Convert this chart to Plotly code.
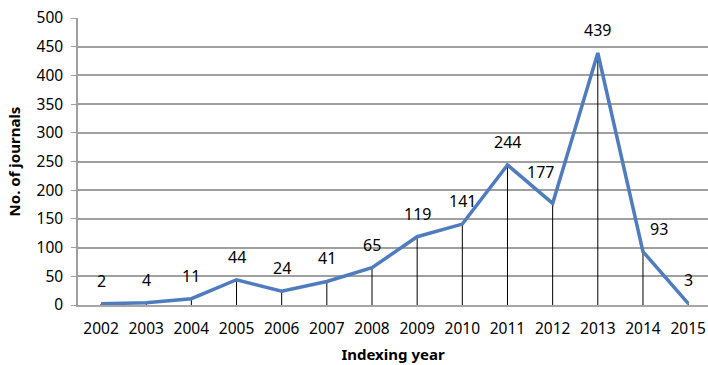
import plotly.graph_objects as go

years = ["2002", "2003", "2004", "2005", "2006", "2007", "2008",
         "2009", "2010", "2011", "2012", "2013", "2014", "2015"]
journals = [2, 4, 11, 44, 24, 41, 65, 119, 141, 244, 177, 439, 93, 3]
y_ticks = [0, 50, 100, 150, 200, 250, 300, 350, 400, 450, 500]

# small per-label nudges so labels clear the line
label_xshift = {"2012": -12, "2014": 16}
label_yshift = {"2012": 31}

FONT = "Noto Sans"

fig = go.Figure()

# series line with drop lines down to the axis
fig.add_trace(go.Scatter(
    x=years, y=journals, mode="lines",
    line=dict(color="#4F7CBE", width=3.5),
    error_y=dict(type="data", symmetric=False,
                 array=[0] * len(journals), arrayminus=journals,
                 color="black", thickness=1, width=0),
    hoverinfo="x+y", showlegend=False,
))

# value labels; on a category axis the annotation x is the category index
for i, (yr, v) in enumerate(zip(years, journals)):
    fig.add_annotation(
        x=i, y=v, xref="x", yref="y", text=str(v), showarrow=False,
        xshift=label_xshift.get(yr, 0), yshift=label_yshift.get(yr, 23),
        font=dict(family=FONT, size=16, color="black"),
    )

fig.update_layout(
    width=708, height=365,
    margin=dict(l=78, r=0, t=18, b=60),
    paper_bgcolor="white", plot_bgcolor="white",
    font=dict(family=FONT, size=15, color="black"),
    xaxis=dict(
        type="category", range=[-0.51, 13.44],
        showgrid=False, showline=True, linecolor="#A6A6A6", linewidth=2,
        ticks="", tickfont=dict(size=15.5, family=FONT), ticklabelstandoff=8,
        title=dict(text="<b>Indexing year</b>", font=dict(size=15, family=FONT), standoff=12),
        zeroline=False,
    ),
    yaxis=dict(
        range=[0, 500], tickvals=y_ticks,
        showgrid=True, gridcolor="#A0A0A0", gridwidth=1.5,
        showline=True, linecolor="#A0A0A0", linewidth=1.5,
        ticks="outside", ticklen=5, tickcolor="#A0A0A0",
        tickfont=dict(size=15.5, family=FONT), ticklabelstandoff=5,
        title=dict(text="<b>No. of journals</b>", font=dict(size=15, family=FONT), standoff=12),
        zeroline=False,
    ),
)

fig.write_html("out.html")
